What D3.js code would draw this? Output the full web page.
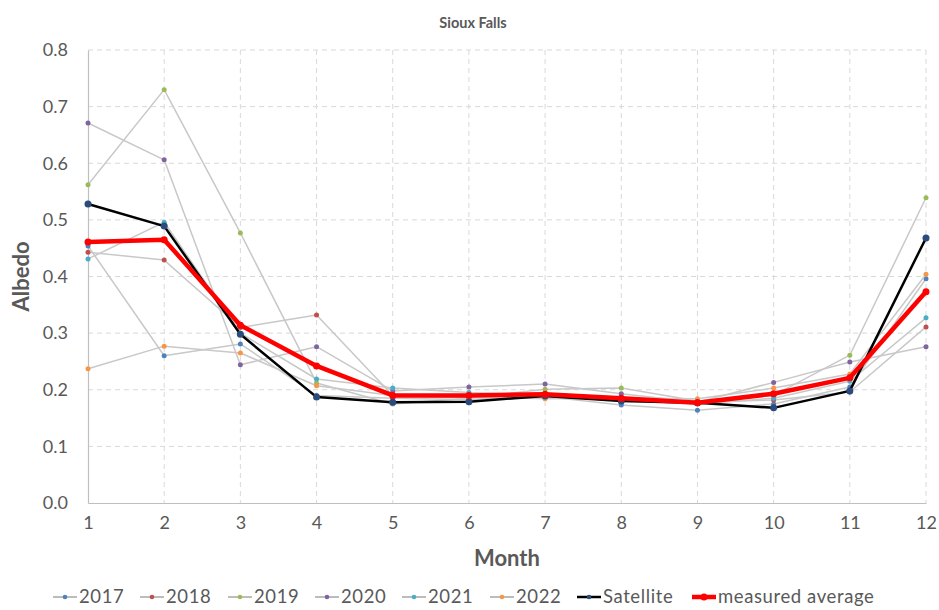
<!DOCTYPE html>
<html>
<head>
<meta charset="utf-8">
<script src="https://cdn.jsdelivr.net/npm/d3@7"></script>
<style>
  body { margin: 0; background: #fff; }
  text { font-family: Lato, "Open Sans", sans-serif; }
</style>
</head>
<body>
<div id="chart"></div>
<script>
// Data.
const months = [1, 2, 3, 4, 5, 6, 7, 8, 9, 10, 11, 12];
const yTicks = [0, 0.1, 0.2, 0.3, 0.4, 0.5, 0.6, 0.7, 0.8];

const y2017 = [0.454, 0.260, 0.281, 0.190, 0.185, 0.183, 0.188, 0.173, 0.164, 0.175, 0.205, 0.396];
const y2018 = [0.443, 0.429, 0.310, 0.332, 0.190, 0.186, 0.190, 0.183, 0.178, 0.182, 0.196, 0.311];
const y2019 = [0.562, 0.730, 0.477, 0.212, 0.175, 0.185, 0.201, 0.203, 0.180, 0.190, 0.261, 0.539];
const y2020 = [0.671, 0.606, 0.244, 0.276, 0.198, 0.205, 0.210, 0.193, 0.178, 0.213, 0.249, 0.276];
const y2021 = [0.431, 0.496, 0.300, 0.219, 0.203, 0.195, 0.190, 0.180, 0.175, 0.185, 0.215, 0.327];
const y2022 = [0.237, 0.277, 0.265, 0.207, 0.190, 0.188, 0.184, 0.185, 0.184, 0.203, 0.228, 0.404];
const satellite = [0.528, 0.489, 0.298, 0.187, 0.178, 0.179, 0.189, 0.180, 0.177, 0.168, 0.198, 0.468];
const measuredAvg = [0.461, 0.465, 0.314, 0.242, 0.190, 0.190, 0.192, 0.185, 0.177, 0.193, 0.221, 0.373];

const series = [
  { name: '2017', values: y2017, color: '#4f81bd', line: '#c8c8c8', width: 1.5, r: 2.5 },
  { name: '2018', values: y2018, color: '#c0504d', line: '#c8c8c8', width: 1.5, r: 2.5 },
  { name: '2019', values: y2019, color: '#9bbb59', line: '#c8c8c8', width: 1.5, r: 2.5 },
  { name: '2020', values: y2020, color: '#8064a2', line: '#c8c8c8', width: 1.5, r: 2.5 },
  { name: '2021', values: y2021, color: '#4bacc6', line: '#c8c8c8', width: 1.5, r: 2.5 },
  { name: '2022', values: y2022, color: '#f79646', line: '#c8c8c8', width: 1.5, r: 2.5 },
  { name: 'Satellite', values: satellite, color: '#2b4b7c', line: '#000000', width: 2.5, r: 3.5 },
  { name: 'measured average', values: measuredAvg, color: '#ff0000', line: '#ff0000', width: 4.5, r: 3.5 }
];

// Svg constants.
const width = 939, height = 610;
const svg = d3.select('#chart')
  .append('svg')
  .attr('width', width)
  .attr('height', height);

const plotLeft = 88, plotRight = 926, plotTop = 50, plotBottom = 503;

const x = d3.scaleLinear().domain([1, 12]).range([plotLeft, plotRight]);
const y = d3.scaleLinear().domain([0, 0.8]).range([plotBottom, plotTop]);

// Title.
svg.append('text')
  .attr('x', 473)
  .attr('y', 28)
  .attr('text-anchor', 'middle')
  .attr('font-size', '14.5px')
  .attr('font-weight', 'bold')
  .attr('fill', '#595959')
  .text('Sioux Falls');

// Gridlines.
svg.append('g')
  .selectAll('line')
  .data(yTicks.slice(1))
  .join('line')
    .attr('x1', plotLeft).attr('x2', plotRight)
    .attr('y1', d => y(d)).attr('y2', d => y(d))
    .attr('stroke', '#d9d9d9')
    .attr('stroke-dasharray', '5,4');

svg.append('g')
  .selectAll('line')
  .data(months.slice(1))
  .join('line')
    .attr('x1', d => x(d)).attr('x2', d => x(d))
    .attr('y1', plotTop).attr('y2', plotBottom)
    .attr('stroke', '#d9d9d9')
    .attr('stroke-dasharray', '5,4');

// Axes.
const xAxis = svg.append('g')
  .attr('transform', `translate(0,${plotBottom})`)
  .call(d3.axisBottom(x).tickValues(months).tickSize(0).tickPadding(12).tickFormat(d3.format('d')));
const yAxis = svg.append('g')
  .attr('transform', `translate(${plotLeft},0)`)
  .call(d3.axisLeft(y).tickValues(yTicks).tickSize(0).tickPadding(20).tickFormat(d3.format('.1f')));

[xAxis, yAxis].forEach(a => {
  a.select('.domain').attr('stroke', '#bfbfbf').attr('stroke-width', 1.2);
  a.selectAll('text').attr('font-size', '18px').attr('fill', '#595959')
    .attr('font-family', 'Lato, "Open Sans", sans-serif');
});
xAxis.selectAll('text').attr('dy', '0.75em');

// Axis titles.
svg.append('text')
  .attr('x', 507)
  .attr('y', 566)
  .attr('text-anchor', 'middle')
  .attr('font-size', '22px')
  .attr('font-weight', 'bold')
  .attr('fill', '#595959')
  .text('Month');

svg.append('text')
  .attr('transform', `translate(29,${(plotTop + plotBottom) / 2}) rotate(-90)`)
  .attr('text-anchor', 'middle')
  .attr('font-size', '22px')
  .attr('font-weight', 'bold')
  .attr('fill', '#595959')
  .text('Albedo');

// Lines and markers.
const line = d3.line()
  .x((d, i) => x(months[i]))
  .y(d => y(d));

series.forEach(s => {
  const g = svg.append('g');
  g.append('path')
    .attr('d', line(s.values))
    .attr('fill', 'none')
    .attr('stroke', s.line)
    .attr('stroke-width', s.width)
    .attr('stroke-linejoin', 'round');
  g.selectAll('circle')
    .data(s.values)
    .join('circle')
      .attr('cx', (d, i) => x(months[i]))
      .attr('cy', d => y(d))
      .attr('r', s.r)
      .attr('fill', s.color);
});

// Legend.
const legendX = [53, 140, 228, 315, 402, 490, 577, 692];
const legend = svg.append('g');
series.forEach((s, i) => {
  const g = legend.append('g').attr('transform', `translate(${legendX[i]},597)`);
  g.append('line')
    .attr('x1', 0).attr('x2', 24)
    .attr('stroke', s.line === '#c8c8c8' ? '#a6a6a6' : s.line)
    .attr('stroke-width', s.width);
  g.append('circle')
    .attr('cx', 12)
    .attr('r', s.name === 'measured average' ? 3.5 : 2.3)
    .attr('fill', s.color);
  g.append('text')
    .attr('x', 26)
    .attr('dy', '0.35em')
    .attr('font-size', '18.5px')
    .attr('letter-spacing', '0.6px')
    .attr('fill', '#595959')
    .text(s.name);
});
</script>
</body>
</html>
